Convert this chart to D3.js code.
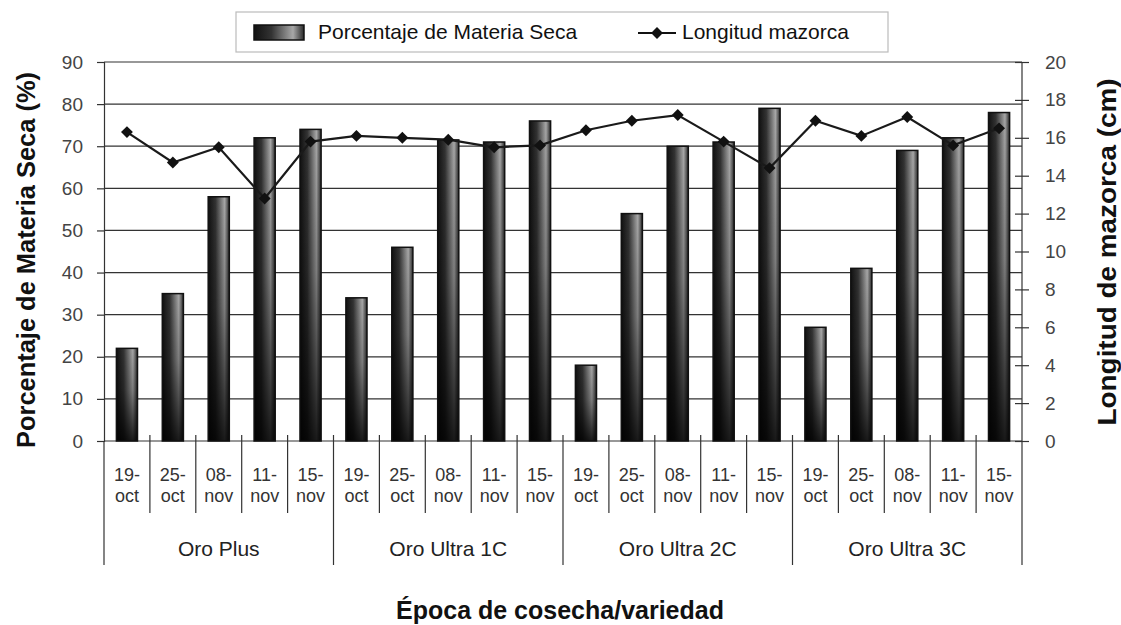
<!DOCTYPE html>
<html>
<head>
<meta charset="utf-8">
<script src="https://cdn.jsdelivr.net/npm/d3@7"></script>
<style>
  body { margin: 0; background: #fff; }
  svg { font-family: "Liberation Sans", Arial, sans-serif; }
</style>
</head>
<body>
<div id="chart"></div>
<script>
const varieties = ["Oro Plus", "Oro Ultra 1C", "Oro Ultra 2C", "Oro Ultra 3C"]
const dates = ["19-oct", "25-oct", "08-nov", "11-nov", "15-nov"]

// Porcentaje de materia seca, per variety (in date order)
const materiaSeca = [
  [22, 35, 58, 72, 74],
  [34, 46, 71.5, 71, 76],
  [18, 54, 70, 71, 79],
  [27, 41, 69, 72, 78],
]
// Longitud mazorca (cm)
const longitud = [
  [16.3, 14.7, 15.5, 12.8, 15.8],
  [16.1, 16.0, 15.9, 15.5, 15.6],
  [16.4, 16.9, 17.2, 15.8, 14.4],
  [16.9, 16.1, 17.1, 15.6, 16.5],
]

const leftTicks = d3.range(0, 91, 10)
const rightTicks = d3.range(0, 21, 2)

const width = 1121
const height = 625
const margin = { top: 62, right: 99, bottom: 184, left: 104 }
const plotW = width - margin.left - margin.right
const plotH = height - margin.top - margin.bottom

// flatten into one row per category
const rows = []
varieties.forEach((v, vi) => {
  dates.forEach((d, di) => {
    rows.push({ key: vi + "|" + d, variety: v, date: d, seca: materiaSeca[vi][di], len: longitud[vi][di] })
  })
})

const svg = d3.select("#chart").append("svg")
  .attr("width", width)
  .attr("height", height)

const defs = svg.append("defs")
const hGrad = defs.append("linearGradient").attr("id", "barH")
  .attr("x1", "0").attr("x2", "1").attr("y1", "0").attr("y2", "0")
hGrad.append("stop").attr("offset", "0%").attr("stop-color", "#111")
hGrad.append("stop").attr("offset", "35%").attr("stop-color", "#333")
hGrad.append("stop").attr("offset", "78%").attr("stop-color", "#a8a8a8")
hGrad.append("stop").attr("offset", "100%").attr("stop-color", "#2a2a2a")
const vGrad = defs.append("linearGradient").attr("id", "barV")
  .attr("x1", "0").attr("x2", "0").attr("y1", "0").attr("y2", "1")
vGrad.append("stop").attr("offset", "0%").attr("stop-color", "#000").attr("stop-opacity", 0)
vGrad.append("stop").attr("offset", "45%").attr("stop-color", "#000").attr("stop-opacity", 0.25)
vGrad.append("stop").attr("offset", "100%").attr("stop-color", "#000").attr("stop-opacity", 0.85)

const g = svg.append("g").attr("transform", `translate(${margin.left},${margin.top})`)

const x = d3.scaleBand()
  .domain(rows.map(r => r.key))
  .range([0, plotW])
  .paddingInner(0.54)
  .paddingOuter(0.27)

const y = d3.scaleLinear().domain([0, 90]).range([plotH, 0])
const y2 = d3.scaleLinear().domain([0, 20]).range([plotH, 0])

const band = plotW / rows.length

// gridlines
g.append("g")
  .selectAll("line")
  .data(leftTicks)
  .join("line")
  .attr("x1", 0)
  .attr("x2", plotW)
  .attr("y1", d => y(d))
  .attr("y2", d => y(d))
  .attr("stroke", "#333")
  .attr("stroke-width", 1.2)

// left axis
const leftAxis = g.append("g")
  .call(d3.axisLeft(y).tickValues(leftTicks).tickSize(7).tickPadding(14))
leftAxis.select(".domain").attr("stroke", "#333").attr("stroke-width", 1.2)
leftAxis.selectAll(".tick line").attr("stroke", "#333").attr("stroke-width", 1.2)
leftAxis.selectAll("text").attr("font-size", 19).attr("fill", "#444")
  .attr("font-family", "Liberation Sans, Arial, sans-serif")

// right axis
const rightAxis = g.append("g")
  .attr("transform", `translate(${plotW},0)`)
  .call(d3.axisRight(y2).tickValues(rightTicks).tickSize(7).tickPadding(16))
rightAxis.select(".domain").remove()
rightAxis.selectAll(".tick line").attr("x1", -7).attr("stroke", "#333").attr("stroke-width", 1.2)
rightAxis.selectAll("text").attr("font-size", 19).attr("fill", "#444")
  .attr("font-family", "Liberation Sans, Arial, sans-serif")

// bars
const bars = g.append("g")
  .selectAll("g")
  .data(rows)
  .join("g")
bars.append("rect")
  .attr("x", d => x(d.key))
  .attr("y", d => y(d.seca))
  .attr("width", x.bandwidth())
  .attr("height", d => plotH - y(d.seca))
  .attr("fill", "url(#barH)")
bars.append("rect")
  .attr("x", d => x(d.key))
  .attr("y", d => y(d.seca))
  .attr("width", x.bandwidth())
  .attr("height", d => plotH - y(d.seca))
  .attr("fill", "url(#barV)")
  .attr("stroke", "#111")
  .attr("stroke-width", 1.5)

// line series (one continuous line)
const line = d3.line()
  .x(d => x(d.key) + x.bandwidth() / 2)
  .y(d => y2(d.len))
g.append("path")
  .datum(rows)
  .attr("fill", "none")
  .attr("stroke", "#1a1a1a")
  .attr("stroke-width", 2.2)
  .attr("d", line)
g.append("g")
  .selectAll("path")
  .data(rows)
  .join("path")
  .attr("d", d3.symbol(d3.symbolDiamond2, 90))
  .attr("transform", d => `translate(${x(d.key) + x.bandwidth() / 2},${y2(d.len)})`)
  .attr("fill", "#111")

// right axis line, extends down to the group boundary
g.append("line")
  .attr("x1", plotW).attr("x2", plotW)
  .attr("y1", 0).attr("y2", plotH + 124)
  .attr("stroke", "#333").attr("stroke-width", 1.2)
g.append("line")
  .attr("x1", 0).attr("x2", 0)
  .attr("y1", plotH).attr("y2", plotH + 124)
  .attr("stroke", "#333").attr("stroke-width", 1.2)

// category separators and labels
const cat = g.append("g").attr("transform", `translate(0,${plotH})`)
rows.forEach((r, i) => {
  if (i > 0) {
    const isGroup = i % dates.length === 0
    cat.append("line")
      .attr("x1", i * band).attr("x2", i * band)
      .attr("y1", -6).attr("y2", isGroup ? 124 : 72)
      .attr("stroke", "#333").attr("stroke-width", 1.2)
  }
  const parts = r.date.split("-")
  const t = cat.append("text")
    .attr("x", (i + 0.5) * band)
    .attr("text-anchor", "middle")
    .attr("font-size", 18)
    .attr("fill", "#333")
  t.append("tspan").attr("x", (i + 0.5) * band).attr("y", 40).text(parts[0] + "-")
  t.append("tspan").attr("x", (i + 0.5) * band).attr("y", 61).text(parts[1])
})
varieties.forEach((v, vi) => {
  cat.append("text")
    .attr("x", (vi + 0.5) * band * dates.length)
    .attr("y", 115)
    .attr("text-anchor", "middle")
    .attr("font-size", 21)
    .attr("fill", "#222")
    .text(v)
})

// axis titles
svg.append("text")
  .attr("transform", `translate(35,${260}) rotate(-90)`)
  .attr("text-anchor", "middle")
  .attr("font-size", 26)
  .attr("font-weight", "bold")
  .attr("fill", "#111")
  .attr("textLength", 376)
  .attr("lengthAdjust", "spacingAndGlyphs")
  .text("Porcentaje de Materia Seca (%)")
svg.append("text")
  .attr("transform", `translate(1116,${252}) rotate(-90)`)
  .attr("text-anchor", "middle")
  .attr("font-size", 26)
  .attr("font-weight", "bold")
  .attr("fill", "#111")
  .attr("textLength", 347)
  .attr("lengthAdjust", "spacingAndGlyphs")
  .text("Longitud de mazorca (cm)")
svg.append("text")
  .attr("x", 560)
  .attr("y", 619)
  .attr("text-anchor", "middle")
  .attr("font-size", 25)
  .attr("font-weight", "bold")
  .attr("fill", "#111")
  .text("Época de cosecha/variedad")

// legend
const legend = svg.append("g")
legend.append("rect")
  .attr("x", 236).attr("y", 12).attr("width", 652).attr("height", 40)
  .attr("fill", "#fff").attr("stroke", "#bbb").attr("stroke-width", 1.2)
legend.append("rect")
  .attr("x", 254).attr("y", 25).attr("width", 50).attr("height", 15)
  .attr("fill", "url(#barH)").attr("stroke", "#111").attr("stroke-width", 1.5)
legend.append("text")
  .attr("x", 318).attr("y", 39).attr("font-size", 21).attr("fill", "#111")
  .text("Porcentaje de Materia Seca")
legend.append("line")
  .attr("x1", 638).attr("x2", 676).attr("y1", 33).attr("y2", 33)
  .attr("stroke", "#111").attr("stroke-width", 2.2)
legend.append("path")
  .attr("d", d3.symbol(d3.symbolDiamond2, 90))
  .attr("transform", "translate(657,33)")
  .attr("fill", "#111")
legend.append("text")
  .attr("x", 682).attr("y", 39).attr("font-size", 21).attr("fill", "#111")
  .text("Longitud mazorca")
</script>
</body>
</html>
